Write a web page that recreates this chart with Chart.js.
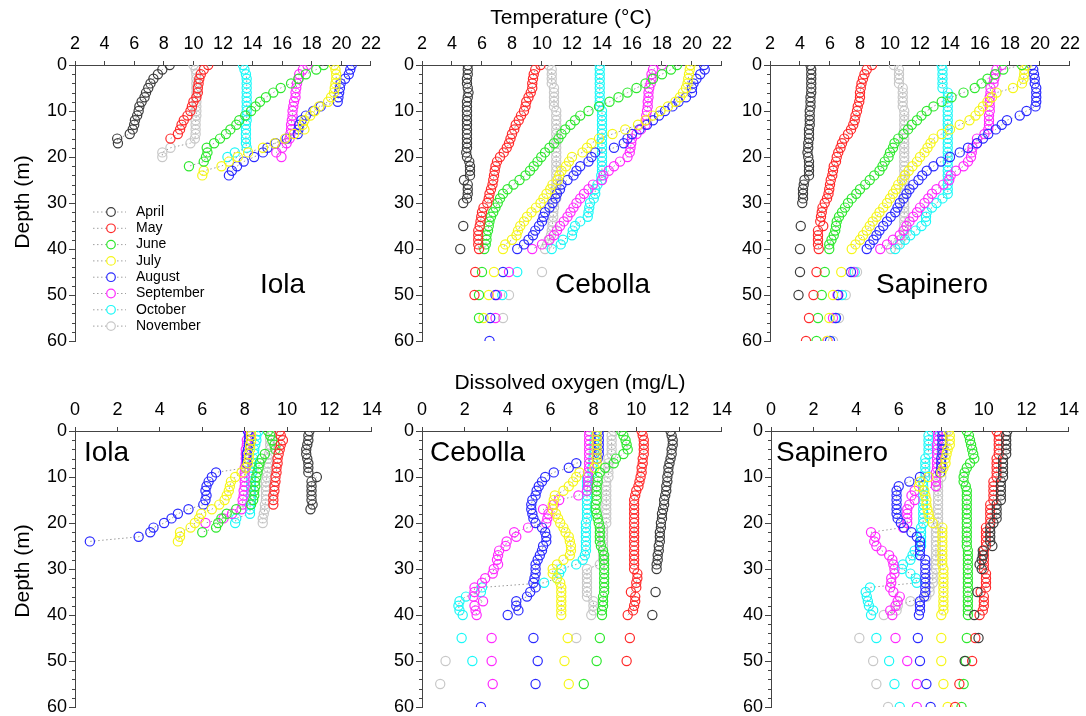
<!DOCTYPE html>
<html>
<head>
<meta charset="utf-8">
<script src="https://cdn.jsdelivr.net/npm/chart.js@4.4.1/dist/chart.umd.min.js"></script>
<style>
  body { margin: 0; background: #fff; }
  #page { position: relative; width: 1086px; height: 716px; overflow: hidden;
          font-family: Arial, "Liberation Sans", sans-serif; color: #000; }
  #page canvas { position: absolute; }
  .txt { position: absolute; white-space: nowrap; line-height: 1; }
  .lake { font-size: 28px; }
  .axtitle { font-size: 21px; }
</style>
</head>
<body>
<div id="page">
  <canvas id="tempIola"></canvas>
  <canvas id="tempCebolla"></canvas>
  <canvas id="tempSapinero"></canvas>
  <canvas id="doIola"></canvas>
  <canvas id="doCebolla"></canvas>
  <canvas id="doSapinero"></canvas>

  <div class="txt axtitle" style="left:571px;top:6px;transform:translateX(-50%)">Temperature (°C)</div>
  <div class="txt axtitle" style="left:570px;top:371px;transform:translateX(-50%)">Dissolved oxygen (mg/L)</div>
  <div class="txt axtitle" style="left:21px;top:202px;transform:translate(-50%,-50%) rotate(-90deg)">Depth (m)</div>
  <div class="txt axtitle" style="left:21px;top:571px;transform:translate(-50%,-50%) rotate(-90deg)">Depth (m)</div>

  <div class="txt lake" style="left:260px;top:270px">Iola</div>
  <div class="txt lake" style="left:555px;top:270px">Cebolla</div>
  <div class="txt lake" style="left:876px;top:270px">Sapinero</div>
  <div class="txt lake" style="left:84px;top:438px">Iola</div>
  <div class="txt lake" style="left:430px;top:438px">Cebolla</div>
  <div class="txt lake" style="left:776px;top:438px">Sapinero</div>
</div>

<script>
const months = ['April', 'May', 'June', 'July', 'August', 'September', 'October', 'November'];

// profile readings every metre, deep casts every 5 m below 40 m
const profileDepths = [0, 1, 2, 3, 4, 5, 6, 7, 8, 9, 10, 11, 12, 13, 14, 15, 16, 17, 18, 19, 20,
  21, 22, 23, 24, 25, 26, 27, 28, 29, 30, 31, 32, 33, 34, 35, 36, 37, 38, 39, 40];
const deepDepths = [45, 50, 55, 60];
const depthTicks = [0, 10, 20, 30, 40, 50, 60];

// ---- temperature (°C), one row per month ----
const iolaTemp = [
  [8.4, 7.9, 7.6, 7.3, 7.1, 6.95, 6.8, 6.7, 6.5, 6.35, 6.3, 6.2, 6.05, 6.0, 5.9, 5.7, 4.85, 4.9],
  [11.0, 10.7, 10.5, 10.4, 10.35, 10.3, 10.3, 10.2, 10.0, 9.9, 9.8, 9.6, 9.35, 9.2, 9.1, 8.95, 8.45],
  [18.8, 18.3, 17.6, 17.1, 16.6, 15.9, 15.4, 14.9, 14.5, 14.2, 13.9, 13.5, 13.1, 12.9, 12.5, 12.2, 11.8, 11.4, 10.9, 10.95, 10.85, 10.7, 9.7],
  [19.5, 19.6, 19.65, 19.65, 19.6, 19.55, 19.5, 19.3, 19.1, 18.5, 18.2, 17.9, 17.5, 17.4, 17.5, 16.8, 16.2, 15.5, 14.7, 13.7, 13.0, 12.4, 11.9, 10.7, 10.6],
  [20.7, 20.6, 20.5, 20.25, 19.95, 19.9, 19.85, 19.8, 19.75, 18.6, 18.1, 17.6, 17.3, 17.15, 17.1, 17.05, 16.3, 15.55, 15.0, 14.7, 14.1, 13.4, 12.95, 12.6, 12.4],
  [17.7, 17.4, 17.15, 17.1, 17.0, 16.95, 16.9, 16.9, 16.8, 16.75, 16.7, 16.7, 16.65, 16.6, 16.6, 16.55, 16.5, 16.3, 16.0, 15.6, 15.95],
  [13.35, 13.45, 13.55, 13.6, 13.6, 13.6, 13.6, 13.6, 13.6, 13.6, 13.6, 13.6, 13.6, 13.55, 13.55, 13.55, 13.55, 13.55, 13.6, 12.8, 12.3],
  [10.0, 10.15, 10.2, 10.2, 10.2, 10.2, 10.2, 10.2, 10.2, 10.2, 10.2, 10.2, 10.15, 10.15, 10.15, 10.15, 10.1, 9.8, 8.45, 7.9, 7.9]
];

const cebollaTemp = [
  [5.05, 5.05, 5.05, 5.0, 5.0, 5.05, 5.1, 5.05, 5.0, 5.0,
   5.0, 5.0, 5.0, 5.0, 5.0, 5.0, 5.0, 5.0, 5.0, 4.95,
   5.0, 5.15, 5.2, 5.2, 5.2, 4.8, 5.05, 5.05, 5.05, 5.0,
   4.75, null, null, null, null, 4.75, null, null, null, null,
   4.55],
  [9.9, 9.55, 9.45, 9.4, 9.35, 9.35, 9.25, 9.1, 8.95, 8.9,
   8.8, 8.6, 8.45, 8.25, 8.15, 8.0, 7.9, 7.8, 7.65, 7.45,
   7.2, 7.0, 6.9, 6.85, 6.8, 6.75, 6.7, 6.6, 6.5, 6.45,
   6.35, 6.1, 6.0, 5.95, 5.9, 5.85, 5.75, 5.75, 5.75, 5.75,
   5.8],
  [19.0, 18.6, 18.0, 17.4, 16.9, 16.3, 15.7, 15.1, 14.5, 13.8,
   13.1, 12.55, 12.2, 11.9, 11.55, 11.3, 11.1, 10.8, 10.5, 10.2,
   9.95, 9.7, 9.45, 9.2, 8.9, 8.5, 8.1, 7.7, 7.4, 7.2,
   7.05, 6.9, 6.75, 6.6, 6.5, 6.45, 6.4, 6.3, 6.3, 6.25,
   6.15],
  [19.9, 19.85, 19.8, 19.75, 19.7, 19.6, 19.4, 19.2, 18.9, 18.4,
   17.9, 17.4, 16.9, 16.4, 15.55, 14.7, 13.8, 13.3, 13.0, 12.7,
   12.0, 11.8, 11.6, 11.3, 11.15, 11.05, 10.7, 10.55, 10.3, 10.1,
   9.9, 9.6, 9.3, 9.0, 8.8, 8.55, 8.4, 8.3, 8.0, 7.55,
   7.4],
  [20.8, 20.85, 20.55, 20.3, 20.1, 20.0, 20.0, 19.6, 19.1, 18.7,
   18.2, 17.8, 17.4, 17.0, 16.5, 16.0, 15.7, 15.45, 14.8, 13.55,
   13.3, 13.1, 12.55, 12.3, 12.1, 11.7, 11.3, 11.2, 11.0, 10.9,
   10.7, 10.5, 10.2, 10.1, 10.0, 9.8, 9.55, 9.4, 9.1, 8.8,
   8.35],
  [18.0, 17.4, 17.3, 17.3, 17.25, 17.15, 17.1, 17.1, 17.05, 17.05,
   17.0, 16.95, 16.95, 16.9, 16.6, 16.3, 16.0, 15.95, 15.9, 15.85,
   15.7, 15.2, 14.8, 14.45, 14.1, 14.0, 13.4, 13.1, 12.8, 12.55,
   12.3, 12.1, 11.9, 11.7, 11.45, 11.2, 11.0, 10.8, 10.5, 10.0,
   9.35],
  [13.85, 13.85, 13.85, 13.85, 13.85, 13.85, 13.85, 13.85, 13.85, 13.85,
   14.0, 14.0, 14.0, 14.0, 14.0, 14.0, 14.0, 14.0, 14.0, 14.0,
   14.0, 14.0, 14.0, 14.0, 13.95, 13.95, 13.7, 13.55, 13.55, 13.45,
   13.2, 13.15, 13.1, 13.05, 12.55, 12.2, 12.05, 12.0, 11.4, 11.25,
   10.65],
  [10.45, 10.65, 10.65, 10.65, 10.65, 10.8, 10.8, 10.8, 10.8, 10.8,
   10.95, 10.95, 10.95, 10.95, 10.95, 10.95, 10.95, 10.95, 10.95, 10.95,
   10.95, 10.95, 10.95, 10.95, 10.95, 10.95, 10.95, 10.95, 10.95, 10.95,
   10.8, 10.8, 10.75, 10.75, 10.7, 10.7, 10.65, 10.6, 10.45, 10.35,
   10.2]
];
const cebollaTempDeep = [
  [null, null, null, null], [5.55, 5.5, null, null], [6.0, 5.8, 5.8, null], [6.8, 6.45, 6.1, null],
  [7.4, 6.9, 6.55, 6.5], [7.8, 7.0, 6.9, null], [8.35, 7.35, null, null], [10.0, 7.8, 7.4, null]
];

const sapineroTemp = [
  [4.7, 4.75, 4.75, 4.75, 4.75, 4.75, 4.75, 4.7, 4.7, 4.7,
   4.65, 4.65, 4.65, 4.65, 4.6, 4.6, 4.6, 4.55, 4.55, 4.5,
   4.55, 4.6, 4.6, 4.6, 4.6, 4.3, 4.25, 4.2, 4.2, 4.2,
   4.15, null, null, null, null, 4.05, null, null, null, null,
   4.0],
  [8.8, 8.45, 8.3, 8.2, 8.1, 8.05, 8.0, 8.0, 7.95, 7.85,
   7.8, 7.7, 7.65, 7.55, 7.4, 7.2, 6.95, 6.8, 6.7, 6.55,
   6.45, 6.4, 6.25, 6.2, 6.15, 6.05, 6.0, 5.95, 5.9, 5.8,
   5.65, 5.5, 5.45, 5.4, 5.35, 5.55, 5.2, 5.2, 5.2, 5.2,
   5.25],
  [18.8, 17.55, 17.0, 16.5, 16.1, 15.65, 14.9, 14.1, 13.45, 12.9,
   12.45, 12.1, 11.8, 11.45, 11.2, 10.9, 10.55, 10.3, 10.2, 10.0,
   9.9, 9.65, 9.5, 9.3, 8.95, 8.65, 8.35, 8.0, 7.75, 7.45,
   7.2, 7.0, 6.8, 6.6, 6.45, 6.4, 6.35, 6.25, 6.1, 5.95,
   5.95],
  [19.1, 18.95, 18.95, 18.9, 18.8, 18.2, 17.1, 16.8, 16.5, 16.2,
   15.95, 15.7, 15.3, 14.65, 14.0, 13.45, 12.9, 12.7, 12.5, 12.3,
   12.0, 11.8, 11.5, 11.25, 11.0, 10.8, 10.55, 10.4, 10.2, 10.0,
   9.8, 9.55, 9.3, 9.1, 8.85, 8.65, 8.45, 8.2, 8.0, 7.7,
   7.45],
  [19.45, 19.55, 19.6, 19.65, 19.65, 19.75, 19.75, 19.75, 19.75, 19.7,
   19.1, 18.65, 17.8, 17.45, 17.05, 16.55, 16.2, 15.8, 15.2, 14.65,
   14.0, 13.4, 12.9, 12.45, 12.15, 11.9, 11.55, 11.3, 11.1, 10.9,
   10.65, 10.5, 10.35, 10.05, 9.8, 9.55, 9.3, 9.1, 8.9, 8.65,
   8.45],
  [17.45, 17.1, 17.05, 16.95, 16.9, 16.7, 16.7, 16.65, 16.65, 16.65,
   16.65, 16.6, 16.6, 16.6, 16.55, 16.3, 15.8, 15.8, 15.5, 15.45,
   15.4, 15.2, 14.9, 14.4, 14.05, 13.95, 13.55, 13.1, 12.8, 12.55,
   12.3, 12.0, 11.8, 11.55, 11.3, 11.1, 10.9, 10.65, 10.2, 9.8,
   9.35],
  [13.45, 13.5, 13.5, 13.5, 13.5, 13.5, 13.85, 13.85, 13.85, 13.85,
   13.85, 13.85, 13.85, 13.85, 13.85, 13.85, 13.85, 13.85, 13.85, 13.85,
   13.85, 13.85, 13.85, 13.85, 13.85, 13.85, 13.85, 13.85, 13.85, 13.5,
   13.1, 12.8, 12.45, 12.4, 12.4, 12.1, 11.7, 11.35, 11.0, 10.65,
   10.35],
  [10.25, 10.6, 10.6, 10.6, 10.6, 10.85, 10.85, 10.85, 10.85, 10.85,
   10.95, 10.95, 10.95, 10.95, 10.95, 10.95, 10.95, 10.95, 10.95, 10.95,
   10.95, 10.95, 10.95, 10.95, 10.95, 10.95, 10.95, 10.95, 10.95, 10.95,
   10.95, 10.95, 10.95, 10.95, 10.95, 10.95, 10.95, 10.95, 10.7, 10.5,
   10.05]
];
const sapineroTempDeep = [
  [4.0, 3.9, null, null], [5.1, 4.9, 4.6, 4.4], [5.65, 5.45, 5.2, 5.1], [6.75, 6.2, 5.95, 5.8],
  [7.4, 6.55, 6.4, 6.0], [7.55, 6.5, 6.2, 5.85], [7.65, 6.8, 6.35, 6.0], [7.8, 7.05, 6.6, 6.2]
];

// ---- dissolved oxygen (mg/L), one row per month ----
const iolaOxygen = [
  [11.05, 11.0, 11.0, 10.95, 10.9, 10.9, 10.95, 11.0, 11.0, 11.0, 11.4, 11.15, 11.15, 11.15, 11.15, 11.15, 11.2, 11.1],
  [9.65, 9.7, 9.8, 9.7, 9.65, 9.6, 9.55, 9.55, 9.5, 9.5, 9.45, 9.45, 9.4, 9.4, 9.35, 9.35, 9.35],
  [9.1, 9.2, 9.3, 9.4, 9.45, 8.95, 8.8, 8.7, 8.65, 8.6, 8.55, 8.5, 8.5, 8.45, 8.45, 8.4, 8.3, 7.6, 7.15, 6.9, 6.75, 6.65, 6.0],
  [8.3, 8.3, 8.3, 8.25, 8.25, 8.2, 8.2, 8.15, 8.05, 7.85, 7.55, 7.35, 7.3, 7.25, 7.15, 7.05, 6.8, 6.45, 5.95, 5.85, 5.65, 5.45, 4.95, 4.95, 4.85],
  [8.15, 8.2, 8.2, 8.2, 8.15, 8.1, 8.1, 8.1, 8.05, 6.65, 6.45, 6.3, 6.2, 6.15, 6.2, 6.15, 6.05, 5.35, 4.85, 4.55, 4.2, 3.7, 3.55, 3.0, 0.7],
  [8.2, 8.25, 8.1, 8.1, 8.05, 8.05, 8.05, 8.05, 8.0, 8.0, 8.0, 8.0, 8.0, 7.95, 7.95, 7.9, 7.9, 7.85, 7.4, 7.0, 6.15],
  [8.65, 8.55, 8.55, 8.5, 8.45, 8.45, 8.4, 8.35, 8.35, 8.35, 8.3, 8.3, 8.3, 8.3, 8.3, 8.3, 8.25, 8.25, 8.25, 7.6, 7.55],
  [9.3, 9.25, 9.2, 9.2, 9.2, 9.15, 9.1, 9.1, 9.1, 9.05, 9.05, 9.0, 9.0, 9.0, 9.0, 9.0, 8.95, 8.95, 8.9, 8.85, 8.85]
];

const cebollaOxygen = [
  [11.6, 11.65, 11.7, 11.7, 11.65, 11.65, 11.6, 11.55, 11.5, 11.5,
   11.45, 11.45, 11.4, 11.4, 11.35, 11.3, 11.3, 11.25, 11.2, 11.2,
   11.15, 11.15, 11.1, 11.1, 11.1, 11.05, 11.05, 11.0, 11.0, 10.95,
   10.95, null, null, null, null, 10.9, null, null, null, null,
   10.75],
  [10.25, 10.3, 10.35, 10.35, 10.35, 10.35, 10.3, 10.3, 10.25, 10.25,
   10.2, 10.15, 10.1, 10.0, 9.95, 9.9, 9.9, 9.9, 9.9, 9.9,
   9.9, 9.9, 9.9, 9.9, 9.9, 9.9, 9.9, 9.9, 9.9, 9.9,
   9.9, 10.05, 10.05, 10.0, 10.0, 9.75, 9.95, 9.95, 9.9, 9.85,
   9.6],
  [9.3, 9.4, 9.5, 9.55, 9.6, 9.4, 9.05, 8.95, 8.55, 8.3,
   8.2, 8.2, 8.15, 8.15, 8.15, 8.15, 8.1, 8.1, 8.15, 8.2,
   8.25, 8.3, 8.3, 8.3, 8.3, 8.35, 8.45, 8.5, 8.5, 8.5,
   8.5, 8.5, 8.5, 8.5, 8.5, 8.5, 8.45, 8.45, 8.45, 8.4,
   8.4],
  [8.15, 8.15, 8.15, 8.15, 8.15, 8.15, 8.15, 8.15, 8.05, 7.35,
   7.2, 7.05, 6.85, 6.6, 6.2, 6.15, 6.1, 6.1, 6.25, 6.35,
   6.45, 6.6, 6.7, 6.85, 6.9, 6.95, 6.95, 6.9, 6.6, 6.3,
   6.1, 6.1, 6.3, 6.45, 6.5, 6.5, 6.5, 6.5, 6.5, 6.5,
   6.5],
  [8.25, 8.25, 8.25, 8.25, 8.25, 8.25, 8.2, 7.2, 6.85, 6.15,
   5.75, 5.6, 5.45, 5.35, 5.3, 5.15, 5.1, 5.1, 5.15, 5.2,
   5.3, 5.6, 5.75, 5.8, 5.8, 5.65, 5.6, 5.5, 5.4, 5.3,
   5.3, 5.3, 5.25, 5.2, 5.3, 5.05, 4.9, 4.4, 4.4, 4.5,
   4.0],
  [7.8, 7.8, 7.8, 7.8, 7.8, 7.8, 7.8, 7.8, 7.8, 7.75,
   7.75, 7.75, 7.75, 7.7, 7.3, 6.4, 6.15, 5.65, 5.9, 5.85,
   5.8, 4.95, 4.3, 4.4, 3.95, 3.9, 3.6, 3.55, 3.5, 3.55,
   3.35, 3.3, 2.95, 2.8, 2.45, 2.45, 2.4, 2.85, 2.45, 2.5,
   2.55],
  [8.1, 8.1, 8.05, 8.05, 8.05, 8.05, 8.0, 8.0, 7.95, 7.95,
   7.7, 7.7, 7.7, 7.7, 7.7, 7.7, 7.7, 7.7, 7.7, 7.7,
   7.65, 7.65, 7.65, 7.65, 7.65, 7.65, 7.65, 7.6, 7.5, 7.2,
   6.5, 6.4, 6.3, 5.7, 2.8, 2.75, 2.05, 1.75, 1.7, 1.75,
   1.9],
  [8.95, 8.85, 8.85, 8.85, 8.85, 8.85, 8.7, 8.7, 8.7, 8.7,
   8.7, 8.6, 8.6, 8.6, 8.6, 8.6, 8.6, 8.6, 8.6, 8.6,
   8.6, 8.45, 8.45, 8.45, 8.45, 8.45, 8.45, 8.45, 8.45, 8.3,
   7.7, 7.7, 7.7, 7.7, 7.7, 7.7, 7.7, 8.0, 8.0, 8.0,
   7.9]
];
const cebollaOxygenDeep = [
  [null, null, null, null], [9.7, 9.55, null, null], [8.3, 8.15, 7.55, null], [6.8, 6.65, 6.85, null],
  [5.2, 5.4, 5.3, 2.75], [3.25, 3.25, 3.3, null], [1.85, 2.35, null, null], [7.2, 1.1, 0.85, null]
];

const sapineroOxygen = [
  [11.1, 11.05, 11.05, 11.05, 11.05, 11.05, 10.9, 10.9, 10.9, 10.9,
   10.9, 10.8, 10.8, 10.8, 10.8, 10.8, 10.6, 10.6, 10.6, 10.6,
   10.45, 10.3, 10.3, 10.3, 10.3, 10.4, 9.95, 9.95, 9.9, 9.8,
   9.9, null, null, null, null, 9.7, null, null, null, null,
   9.55],
  [10.6, 10.7, 10.7, 10.7, 10.7, 10.7, 10.6, 10.6, 10.6, 10.6,
   10.6, 10.45, 10.45, 10.45, 10.45, 10.45, 10.3, 10.3, 10.3, 10.3,
   10.3, 10.1, 10.1, 10.1, 10.1, 10.1, 10.0, 10.0, 10.0, 10.0,
   10.0, 10.1, 10.1, 10.1, 10.1, 9.85, 10.0, 10.0, 10.0, 9.95,
   9.8],
  [9.2, 9.3, 9.35, 9.4, 9.45, 9.5, 9.55, 9.35, 9.2, 9.1,
   9.05, 9.05, 9.15, 9.2, 9.2, 9.2, 9.2, 9.2, 9.2, 9.2,
   9.2, 9.2, 9.2, 9.2, 9.2, 9.2, 9.25, 9.25, 9.25, 9.25,
   9.25, 9.25, 9.25, 9.25, 9.25, 9.25, 9.25, 9.25, 9.25, 9.25,
   9.25],
  [8.35, 8.4, 8.4, 8.4, 8.3, 8.25, 8.2, 8.2, 8.1, 8.0,
   7.4, 7.0, 6.95, 7.2, 7.25, 7.3, 7.3, 7.35, 7.4, 7.45,
   7.6, 8.05, 8.05, 8.05, 8.05, 8.05, 8.05, 8.05, 8.05, 8.05,
   8.1, 8.1, 8.1, 8.1, 8.1, 8.1, 8.1, 8.1, 8.1, 8.1,
   8.0],
  [8.05, 8.05, 8.05, 8.05, 8.05, 8.05, 8.0, 8.0, 8.0, 7.95,
   7.0, 6.5, 6.0, 5.9, 5.9, 5.9, 5.9, 5.9, 5.9, 5.95,
   6.1, 6.25, 6.6, 6.85, 7.0, 7.0, 7.0, 7.0, 7.25, 7.25,
   7.25, 7.25, 7.25, 7.25, 7.25, 7.25, 7.2, 7.0, 7.0, 7.0,
   6.95],
  [7.85, 7.85, 7.85, 7.8, 7.8, 7.8, 7.8, 7.8, 7.8, 7.75,
   7.75, 7.75, 7.75, 6.75, 6.6, 6.75, 6.5, 6.4, 6.4, 6.4,
   6.4, 6.2, 4.7, 4.9, 4.85, 4.95, 5.2, 5.55, 5.7, 5.75,
   5.8, 5.8, 5.65, 5.65, 5.6, 5.75, 6.05, 5.95, 5.85, 5.6,
   5.7],
  [7.55, 7.4, 7.4, 7.4, 7.4, 7.4, 7.25, 7.25, 7.25, 7.25,
   7.25, 7.15, 7.15, 7.15, 7.15, 7.15, 7.15, 7.15, 7.15, 7.15,
   7.15, 7.05, 7.05, 7.05, 7.05, 7.05, 6.75, 6.65, 6.55, 6.2,
   6.15, 6.55, 6.8, 6.85, 4.65, 4.45, 4.5, 4.55, 4.6, 4.8,
   4.7],
  [8.25, 8.1, 8.1, 8.1, 8.1, 8.1, 8.0, 8.0, 8.0, 8.0,
   8.0, 7.85, 7.85, 7.85, 7.85, 7.85, 7.85, 7.85, 7.85, 7.85,
   7.85, 7.75, 7.75, 7.75, 7.75, 7.75, 7.75, 7.75, 7.75, 7.75,
   7.75, 7.6, 7.6, 7.6, 7.45, 7.45, 7.3, 6.55, 5.95, 5.9,
   5.3]
];
const sapineroOxygenDeep = [
  [9.75, 9.1, null, null], [9.6, 9.45, 8.85, 8.65], [9.2, 9.15, 9.05, 8.95], [8.0, 8.0, 8.1, 8.3],
  [6.9, 7.0, 7.3, 7.5], [5.85, 6.4, 6.85, 6.85], [4.95, 5.55, 5.8, 6.05], [4.15, 4.8, 4.95, 5.5]
];

// ---- styling ----
const monthColors = ['#3c3c3c', '#ff2a2a', '#2ee82e', '#f6f61a', '#2a2aff', '#ff2aff', '#1cf8f8', '#c8c8c8'];
const FONT = 'Arial, "Liberation Sans", sans-serif';
Chart.defaults.font.family = FONT;
Chart.defaults.color = '#000';

// consecutive 1 m readings are joined; missing depths and the 5 m deep casts stand alone
const GAP = { x: null, y: null };
function toPoints(profile, deep) {
  const pts = [];
  profile.forEach((v, i) => { pts.push(v === null ? GAP : { x: v, y: profileDepths[i] }); });
  if (deep) deep.forEach((v, i) => {
    pts.push(GAP);
    if (v !== null) pts.push({ x: v, y: deepDepths[i] });
  });
  return pts;
}

// short ticks every 2 m between the labelled depths
const minorTicks = {
  id: 'minorTicks',
  afterDraw(chart) {
    const s = chart.scales.y, ctx = chart.ctx;
    ctx.save();
    ctx.strokeStyle = '#444';
    ctx.lineWidth = 1;
    for (let d = 0; d <= 60; d += 2) {
      if (depthTicks.includes(d)) continue;
      const y = Math.round(s.getPixelForValue(d)) + 0.5;
      ctx.beginPath();
      ctx.moveTo(s.right - 3, y);
      ctx.lineTo(s.right, y);
      ctx.stroke();
    }
    ctx.restore();
  }
};

// month key drawn inside the Iola temperature panel
const monthKey = {
  id: 'monthKey',
  afterDraw(chart) {
    const ctx = chart.ctx, a = chart.chartArea;
    ctx.save();
    ctx.font = '14px ' + FONT;
    ctx.textBaseline = 'middle';
    chart.data.datasets.forEach((ds, i) => {
      const x = a.left + 36, y = a.top + 147 + i * 16.3;
      ctx.strokeStyle = '#a0a0a0';
      ctx.lineWidth = 1;
      ctx.setLineDash([1.5, 2.5]);
      ctx.beginPath();
      ctx.moveTo(x - 18, y);
      ctx.lineTo(x + 15, y);
      ctx.stroke();
      ctx.setLineDash([]);
      ctx.beginPath();
      ctx.arc(x, y, 4.3, 0, Math.PI * 2);
      ctx.fillStyle = '#fff';
      ctx.fill();
      ctx.strokeStyle = ds.pointBorderColor;
      ctx.lineWidth = 1.2;
      ctx.stroke();
      ctx.fillStyle = '#000';
      ctx.fillText(ds.label, x + 25, y);
    });
    ctx.restore();
  }
};

function drawPanel(id, box, xMin, xMax, profiles, deeps, extra) {
  const canvas = document.getElementById(id);
  const w = box.right - box.left + 76, h = box.bottom - box.top + 54;
  canvas.width = w;
  canvas.height = h;
  canvas.style.left = (box.left - 60) + 'px';
  canvas.style.top = (box.top - 40) + 'px';
  canvas.style.width = w + 'px';
  canvas.style.height = h + 'px';

  const datasets = months.map((m, i) => ({
    label: m,
    data: toPoints(profiles[i], deeps ? deeps[i] : null),
    showLine: true,
    spanGaps: false,
    borderColor: '#9a9a9a',
    borderWidth: 1,
    borderDash: [1.5, 2.5],
    pointStyle: 'circle',
    pointRadius: 4.6,
    pointBorderWidth: 1.2,
    pointBorderColor: monthColors[i],
    pointBackgroundColor: 'rgba(0,0,0,0)'
  }));

  new Chart(canvas, {
    type: 'scatter',
    data: { datasets },
    options: {
      responsive: false,
      animation: false,
      events: [],
      layout: { padding: { left: 0, top: 0, right: 16, bottom: 14 } },
      plugins: { legend: { display: false }, tooltip: { enabled: false } },
      scales: {
        x: {
          type: 'linear', position: 'top', min: xMin, max: xMax,
          ticks: { stepSize: 2, font: { size: 18 }, padding: 6, maxRotation: 0 },
          grid: { drawOnChartArea: false, tickLength: 4, color: '#444' },
          border: { color: '#444', width: 1 },
          afterFit(s) { s.height = 40; }
        },
        y: {
          type: 'linear', reverse: true, min: 0, max: 60,
          afterBuildTicks(s) { s.ticks = depthTicks.map(v => ({ value: v })); },
          ticks: { font: { size: 18 }, padding: 2 },
          grid: { drawOnChartArea: false, tickLength: 6, color: '#444' },
          border: { color: '#444', width: 1 },
          afterFit(s) { s.width = 60; }
        }
      }
    },
    plugins: [minorTicks].concat(extra || [])
  });
}

const topRow = { top: 65, bottom: 341 };
const bottomRow = { top: 431, bottom: 707 };

drawPanel('tempIola', { left: 75, right: 371, ...topRow }, 2, 22, iolaTemp, null, [monthKey]);
drawPanel('tempCebolla', { left: 422, right: 722, ...topRow }, 2, 22, cebollaTemp, cebollaTempDeep);
drawPanel('tempSapinero', { left: 770, right: 1070, ...topRow }, 2, 22, sapineroTemp, sapineroTempDeep);
drawPanel('doIola', { left: 75, right: 372, ...bottomRow }, 0, 14, iolaOxygen, null);
drawPanel('doCebolla', { left: 422, right: 722, ...bottomRow }, 0, 14, cebollaOxygen, cebollaOxygenDeep);
drawPanel('doSapinero', { left: 771, right: 1069, ...bottomRow }, 0, 14, sapineroOxygen, sapineroOxygenDeep);
</script>
</body>
</html>
